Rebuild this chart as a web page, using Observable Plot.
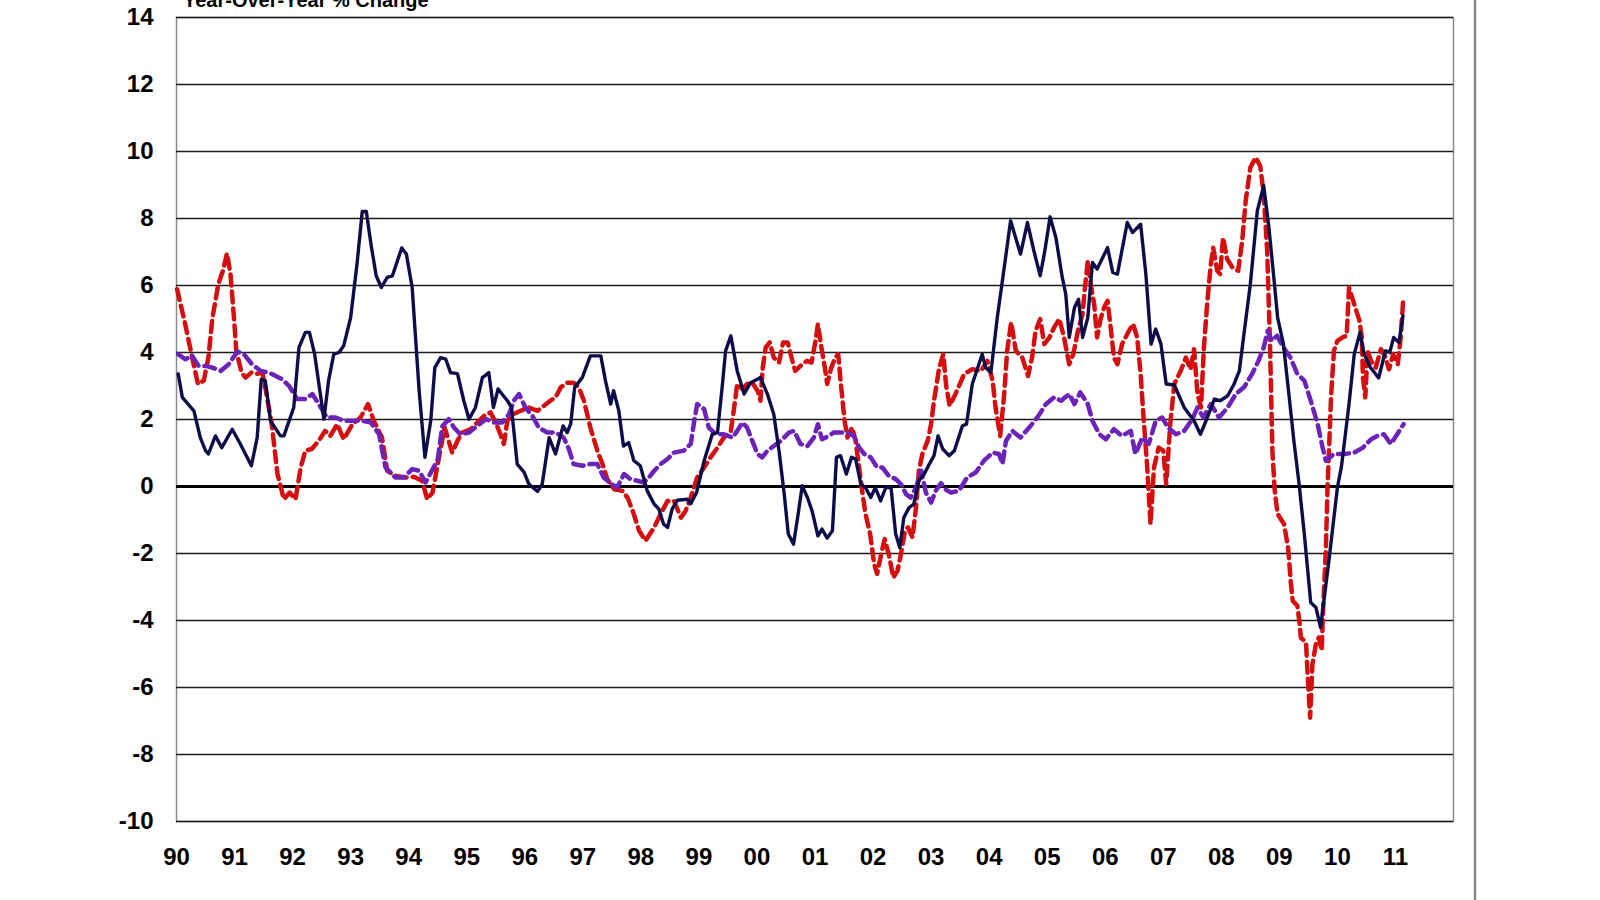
<!DOCTYPE html>
<html>
<head>
<meta charset="utf-8">
<script src="https://cdn.jsdelivr.net/npm/d3@7"></script>
<script src="https://cdn.jsdelivr.net/npm/@observablehq/plot@0.6"></script>
<style>
  html, body { margin: 0; padding: 0; background: #fff; }
  #chart { position: relative; width: 1600px; height: 900px; }
</style>
</head>
<body>
<div id="chart"></div>
<script>
// ---- Data (decimal years, year-over-year % change) ----
const title = "Year-Over-Year % Change";
const yearTicks = d3.range(1990, 2012);            // 90 ... 11
const valueTicks = d3.range(-10, 15, 2);            // -10 ... 14

// Solid navy series
const navyDates = [1990.03,1990.10,1990.30,1990.41,1990.50,1990.55,1990.67,1990.78,1990.96,1991.10,1991.29,1991.39,1991.46,1991.53,1991.62,1991.79,1991.85,1992.02,1992.11,1992.22,1992.29,1992.38,1992.54,1992.62,1992.71,1992.80,1992.88,1993.00,1993.11,1993.20,1993.27,1993.35,1993.44,1993.53,1993.63,1993.72,1993.88,1993.96,1994.06,1994.18,1994.28,1994.38,1994.45,1994.55,1994.64,1994.72,1994.84,1994.95,1995.04,1995.15,1995.27,1995.38,1995.46,1995.54,1995.70,1995.77,1995.87,1995.99,1996.07,1996.22,1996.30,1996.42,1996.53,1996.66,1996.73,1996.79,1996.86,1996.99,1997.13,1997.31,1997.39,1997.48,1997.53,1997.62,1997.70,1997.79,1997.88,1997.99,1998.11,1998.23,1998.31,1998.39,1998.46,1998.54,1998.63,1998.80,1998.86,1998.96,1999.09,1999.23,1999.32,1999.40,1999.46,1999.55,1999.66,1999.78,1999.89,1999.98,2000.06,2000.18,2000.29,2000.38,2000.47,2000.54,2000.63,2000.71,2000.78,2000.87,2000.95,2001.05,2001.12,2001.21,2001.30,2001.37,2001.44,2001.54,2001.63,2001.70,2001.79,2001.87,2001.96,2002.04,2002.13,2002.22,2002.31,2002.39,2002.46,2002.53,2002.62,2002.70,2002.79,2002.88,2002.97,2003.05,2003.12,2003.20,2003.31,2003.40,2003.54,2003.61,2003.71,2003.88,2003.94,2004.03,2004.14,2004.26,2004.37,2004.54,2004.66,2004.77,2004.88,2004.96,2005.05,2005.15,2005.26,2005.32,2005.38,2005.47,2005.54,2005.61,2005.70,2005.78,2005.86,2006.04,2006.13,2006.21,2006.38,2006.47,2006.61,2006.70,2006.79,2006.87,2006.96,2007.05,2007.19,2007.36,2007.53,2007.64,2007.76,2007.88,2007.98,2008.11,2008.22,2008.31,2008.39,2008.50,2008.62,2008.73,2008.82,2008.91,2008.97,2009.07,2009.17,2009.25,2009.34,2009.43,2009.54,2009.63,2009.71,2009.86,2010.00,2010.07,2010.20,2010.29,2010.39,2010.46,2010.57,2010.71,2010.77,2010.83,2010.90,2010.97,2011.06,2011.13];
const navyValues = [3.36,2.66,2.26,1.46,1.07,0.97,1.51,1.16,1.71,1.27,0.62,1.46,3.20,3.16,1.96,1.51,1.51,2.36,4.15,4.60,4.60,3.95,2.01,3.16,3.95,4.00,4.20,5.04,6.64,8.21,8.21,7.24,6.29,5.94,6.24,6.29,7.12,6.94,5.94,2.86,0.87,1.96,3.55,3.85,3.80,3.40,3.37,2.56,2.01,2.36,3.25,3.40,2.36,2.91,2.56,2.36,0.67,0.42,0.07,-0.15,0.07,1.46,0.97,1.81,1.61,1.86,2.96,3.25,3.90,3.90,3.16,2.46,2.86,2.26,1.21,1.31,0.77,0.62,-0.13,-0.53,-0.67,-1.12,-1.22,-0.67,-0.41,-0.38,-0.51,-0.18,0.77,1.56,1.61,2.96,4.05,4.50,3.45,2.76,3.10,3.18,3.25,2.76,2.16,1.07,-0.23,-1.42,-1.72,-0.82,0.02,-0.33,-0.73,-1.47,-1.27,-1.54,-1.32,0.87,0.92,0.37,0.87,0.82,0.07,-0.03,-0.33,-0.03,-0.43,-0.03,-0.03,-1.42,-1.82,-0.93,-0.63,-0.53,0.17,0.37,0.67,0.92,1.51,1.12,0.92,1.07,1.81,1.86,3.06,3.95,3.55,3.40,5.04,6.54,7.93,6.94,7.88,7.04,6.29,7.04,8.05,7.43,6.24,5.74,4.45,5.34,5.59,4.45,5.04,6.69,6.49,7.13,6.39,6.34,7.88,7.58,7.83,6.34,4.25,4.70,4.25,3.06,3.03,2.36,1.96,1.56,2.06,2.61,2.56,2.71,3.06,3.45,4.55,6.04,8.23,8.98,7.73,6.14,5.04,4.25,2.66,1.36,0.07,-1.42,-3.46,-3.61,-4.21,-2.12,-0.03,0.60,2.46,3.95,4.60,3.95,3.55,3.24,3.65,4.05,4.00,4.45,4.30,5.10];

// Dashed red series
const redDates = [1990.01,1990.15,1990.27,1990.37,1990.47,1990.55,1990.62,1990.72,1990.80,1990.87,1990.93,1990.99,1991.03,1991.12,1991.19,1991.29,1991.37,1991.48,1991.54,1991.64,1991.74,1991.85,1991.95,1992.05,1992.14,1992.22,1992.33,1992.45,1992.56,1992.65,1992.77,1992.88,1993.03,1993.17,1993.30,1993.40,1993.54,1993.63,1993.77,1993.95,1994.09,1994.23,1994.32,1994.41,1994.50,1994.62,1994.75,1994.84,1994.92,1995.07,1995.18,1995.30,1995.41,1995.50,1995.58,1995.64,1995.70,1995.80,1995.93,1996.07,1996.22,1996.33,1996.44,1996.53,1996.62,1996.73,1996.84,1996.93,1997.02,1997.13,1997.25,1997.34,1997.42,1997.54,1997.68,1997.77,1997.86,1997.97,1998.08,1998.23,1998.34,1998.46,1998.57,1998.69,1998.77,1998.86,1998.97,1999.09,1999.20,1999.32,1999.43,1999.55,1999.60,1999.66,1999.75,1999.83,1999.92,2000.01,2000.06,2000.10,2000.15,2000.22,2000.29,2000.38,2000.45,2000.53,2000.61,2000.66,2000.75,2000.86,2000.94,2001.01,2001.05,2001.11,2001.17,2001.21,2001.28,2001.35,2001.40,2001.44,2001.51,2001.56,2001.64,2001.70,2001.76,2001.82,2001.87,2001.95,2002.02,2002.07,2002.14,2002.20,2002.27,2002.35,2002.42,2002.48,2002.55,2002.60,2002.68,2002.74,2002.79,2002.85,2002.94,2003.00,2003.05,2003.14,2003.21,2003.26,2003.32,2003.42,2003.57,2003.71,2003.86,2003.97,2004.06,2004.11,2004.19,2004.26,2004.31,2004.38,2004.46,2004.57,2004.67,2004.74,2004.80,2004.88,2004.95,2005.04,2005.12,2005.21,2005.29,2005.38,2005.45,2005.53,2005.61,2005.65,2005.70,2005.75,2005.81,2005.86,2005.92,2005.98,2006.04,2006.10,2006.15,2006.21,2006.29,2006.41,2006.48,2006.55,2006.61,2006.66,2006.72,2006.78,2006.84,2006.92,2007.00,2007.05,2007.12,2007.19,2007.30,2007.39,2007.47,2007.53,2007.59,2007.65,2007.70,2007.76,2007.82,2007.86,2007.93,2007.98,2008.03,2008.10,2008.19,2008.29,2008.36,2008.42,2008.50,2008.59,2008.67,2008.73,2008.79,2008.84,2008.88,2008.92,2008.97,2009.08,2009.15,2009.20,2009.23,2009.31,2009.35,2009.37,2009.46,2009.48,2009.53,2009.57,2009.63,2009.68,2009.73,2009.75,2009.80,2009.83,2009.86,2009.89,2009.94,2010.00,2010.09,2010.16,2010.20,2010.29,2010.38,2010.42,2010.44,2010.48,2010.52,2010.58,2010.66,2010.75,2010.83,2010.89,2010.96,2011.04,2011.09,2011.13];
const redValues = [5.89,4.85,3.85,3.06,3.16,3.85,5.04,6.04,6.44,6.96,6.34,5.04,4.05,3.40,3.25,3.40,3.36,3.40,2.86,1.86,0.37,-0.38,-0.18,-0.38,0.57,1.07,1.12,1.36,1.66,1.51,1.86,1.41,1.86,2.06,2.46,1.96,1.46,0.47,0.32,0.27,0.29,0.17,-0.38,-0.18,0.67,1.76,1.01,1.36,1.61,1.71,1.91,2.11,2.21,1.91,1.56,1.27,1.96,2.16,2.26,2.36,2.26,2.41,2.56,2.66,2.96,3.10,3.10,2.96,2.56,1.76,1.07,0.67,0.22,-0.08,-0.13,-0.33,-0.73,-1.32,-1.62,-1.22,-0.82,-0.43,-0.43,-0.93,-0.73,-0.33,0.27,0.57,0.87,1.16,1.46,1.66,2.26,3.06,2.91,3.06,3.10,2.86,2.56,3.55,4.15,4.30,3.85,3.70,4.30,4.30,3.75,3.45,3.60,3.75,3.70,4.35,4.85,4.15,3.55,3.06,3.55,3.85,3.95,3.16,1.96,1.46,1.76,1.36,0.57,-0.23,-0.82,-1.42,-2.32,-2.61,-2.02,-1.57,-2.02,-2.72,-2.52,-2.02,-1.32,-1.22,-1.52,-0.63,0.47,0.97,1.36,1.86,2.56,3.55,3.95,3.00,2.41,2.76,3.36,3.50,3.45,3.75,3.16,2.36,1.51,2.76,4.05,4.90,4.05,3.85,3.30,3.85,4.65,5.00,4.25,4.45,4.75,5.00,4.45,3.65,3.95,4.65,5.15,5.94,6.74,6.04,5.44,4.45,5.00,5.34,5.54,4.65,3.85,3.65,4.25,4.65,4.85,4.45,3.36,2.06,0.67,-1.12,0.57,1.16,1.07,0.07,1.86,3.06,3.45,3.85,3.50,4.10,2.76,2.36,4.15,5.54,6.64,7.13,6.44,6.34,7.43,6.79,6.54,6.44,7.33,8.53,9.52,9.82,9.57,8.73,7.04,4.15,1.07,-0.13,-0.82,-1.12,-1.82,-2.91,-3.41,-3.56,-4.11,-4.51,-4.66,-5.40,-6.90,-5.30,-4.70,-4.51,-4.90,-3.81,-1.92,0.00,1.30,2.66,4.05,4.35,4.45,4.50,5.94,5.44,4.95,4.45,3.25,2.66,4.05,3.75,3.55,4.10,3.85,3.50,3.95,3.65,4.45,5.49];

// Dashed purple series
const purpleDates = [1990.03,1990.15,1990.27,1990.38,1990.50,1990.62,1990.76,1990.90,1991.05,1991.16,1991.30,1991.45,1991.59,1991.71,1991.82,1991.94,1992.08,1992.22,1992.34,1992.45,1992.59,1992.74,1992.88,1993.03,1993.20,1993.35,1993.49,1993.60,1993.77,1993.92,1994.06,1994.18,1994.29,1994.43,1994.50,1994.58,1994.69,1994.78,1994.89,1995.04,1995.18,1995.33,1995.47,1995.61,1995.73,1995.81,1995.90,1996.01,1996.13,1996.24,1996.39,1996.53,1996.67,1996.76,1996.84,1996.99,1997.13,1997.25,1997.36,1997.48,1997.59,1997.71,1997.82,1997.94,1998.05,1998.14,1998.23,1998.34,1998.46,1998.57,1998.74,1998.86,1998.92,1998.97,1999.09,1999.17,1999.29,1999.43,1999.58,1999.66,1999.75,1999.83,1999.92,2000.01,2000.09,2000.18,2000.29,2000.41,2000.55,2000.64,2000.75,2000.87,2000.98,2001.05,2001.12,2001.24,2001.32,2001.44,2001.56,2001.67,2001.76,2001.85,2001.96,2002.07,2002.16,2002.27,2002.39,2002.48,2002.57,2002.65,2002.74,2002.83,2002.91,2003.00,2003.08,2003.17,2003.26,2003.34,2003.48,2003.62,2003.77,2003.91,2004.06,2004.17,2004.23,2004.29,2004.40,2004.54,2004.69,2004.83,2004.98,2005.12,2005.24,2005.38,2005.47,2005.57,2005.70,2005.78,2005.90,2006.01,2006.15,2006.29,2006.44,2006.52,2006.64,2006.75,2006.87,2006.98,2007.08,2007.22,2007.36,2007.50,2007.59,2007.69,2007.82,2007.96,2008.11,2008.25,2008.39,2008.53,2008.64,2008.73,2008.80,2008.87,2008.96,2009.07,2009.19,2009.31,2009.43,2009.54,2009.66,2009.74,2009.80,2009.94,2010.12,2010.29,2010.44,2010.58,2010.69,2010.80,2010.92,2011.03,2011.14];
const purpleValues = [3.95,3.80,3.90,3.60,3.60,3.55,3.45,3.65,4.03,3.95,3.65,3.45,3.40,3.30,3.20,3.00,2.61,2.61,2.76,2.46,2.06,2.06,1.96,1.96,1.96,1.91,1.56,0.57,0.27,0.27,0.52,0.47,0.12,0.57,0.80,1.80,2.01,1.76,1.56,1.61,1.81,2.01,1.91,1.91,2.16,2.56,2.76,2.36,2.11,1.76,1.61,1.61,1.46,1.12,0.67,0.62,0.67,0.67,0.27,0.09,-0.03,0.37,0.22,0.17,0.12,0.27,0.47,0.67,0.82,1.01,1.07,1.27,1.96,2.46,2.31,1.76,1.56,1.56,1.46,1.66,1.91,1.76,1.36,0.97,0.87,1.07,1.21,1.36,1.61,1.66,1.27,1.21,1.46,1.86,1.41,1.51,1.61,1.61,1.61,1.51,1.16,0.97,0.87,0.57,0.57,0.32,0.22,0.07,-0.23,-0.33,-0.03,0.47,-0.18,-0.48,-0.13,0.10,-0.10,-0.18,-0.13,0.27,0.42,0.77,1.01,0.97,0.67,1.36,1.66,1.46,1.76,2.06,2.46,2.66,2.56,2.76,2.46,2.81,2.46,1.96,1.56,1.41,1.71,1.51,1.66,0.97,1.46,1.27,1.96,2.06,1.76,1.56,1.66,2.01,2.36,2.06,2.46,2.06,2.36,2.76,2.96,3.36,3.75,4.15,4.65,4.35,4.50,4.15,3.85,3.36,3.16,2.56,1.86,1.20,0.77,0.97,0.97,1.01,1.16,1.41,1.51,1.56,1.27,1.56,1.86];

// ---- Build tidy rows ----
const toRows = (dates, values) => dates.map((d, i) => ({date: d, value: values[i]}));
const navy = toRows(navyDates, navyValues);
const red = toRows(redDates, redValues);
const purple = toRows(purpleDates, purpleValues);

const gridTicks = valueTicks.filter(v => v !== 0);

const chart = Plot.plot({
  width: 1600,
  height: 900,
  marginLeft: 176,
  marginRight: 147,
  marginTop: 17,
  marginBottom: 79,
  style: {background: "#fff", color: "#000", fontFamily: "'Liberation Sans', Arial, sans-serif", overflow: "visible"},
  x: {type: "linear", domain: [1990, 2012]},
  y: {domain: [-10, 14]},
  marks: [
    Plot.frame({stroke: "#8a8a8a", strokeWidth: 1.5}),
    Plot.ruleY(gridTicks, {stroke: "#1c1c1c", strokeWidth: 1.4}),
    Plot.ruleY([0], {stroke: "#000", strokeWidth: 3}),
    Plot.axisY(valueTicks, {tickSize: 0, tickPadding: 23, fontSize: 24, fontWeight: "bold", tickFormat: d => String(d), label: null}),
    Plot.axisX(yearTicks, {tickSize: 0, tickPadding: 26, fontSize: 24, fontWeight: "bold", tickFormat: d => String(d % 100).padStart(2, "0"), label: null}),
    Plot.line(red, {x: "date", y: "value", stroke: "#d50f0f", strokeWidth: 4.5, strokeDasharray: "11,6", curve: "linear"}),
    Plot.line(purple, {x: "date", y: "value", stroke: "#6d22b8", strokeWidth: 4.5, strokeDasharray: "11,6", curve: "linear"}),
    Plot.line(navy, {x: "date", y: "value", stroke: "#0d0d4a", strokeWidth: 3.4, strokeLinejoin: "round", curve: "linear"})
  ]
});

const svg = d3.select(chart);
svg.append("text")
  .attr("x", 183).attr("y", 7)
  .attr("text-anchor", "start")
  .attr("font-family", "'Liberation Sans', Arial, sans-serif")
  .attr("font-size", 20).attr("font-weight", "bold").attr("fill", "#000")
  .text(title);
svg.append("line")
  .attr("x1", 1475).attr("x2", 1475).attr("y1", 0).attr("y2", 900)
  .attr("stroke", "#8a8a8a").attr("stroke-width", 2.5);

document.getElementById("chart").appendChild(chart);
</script>
</body>
</html>
